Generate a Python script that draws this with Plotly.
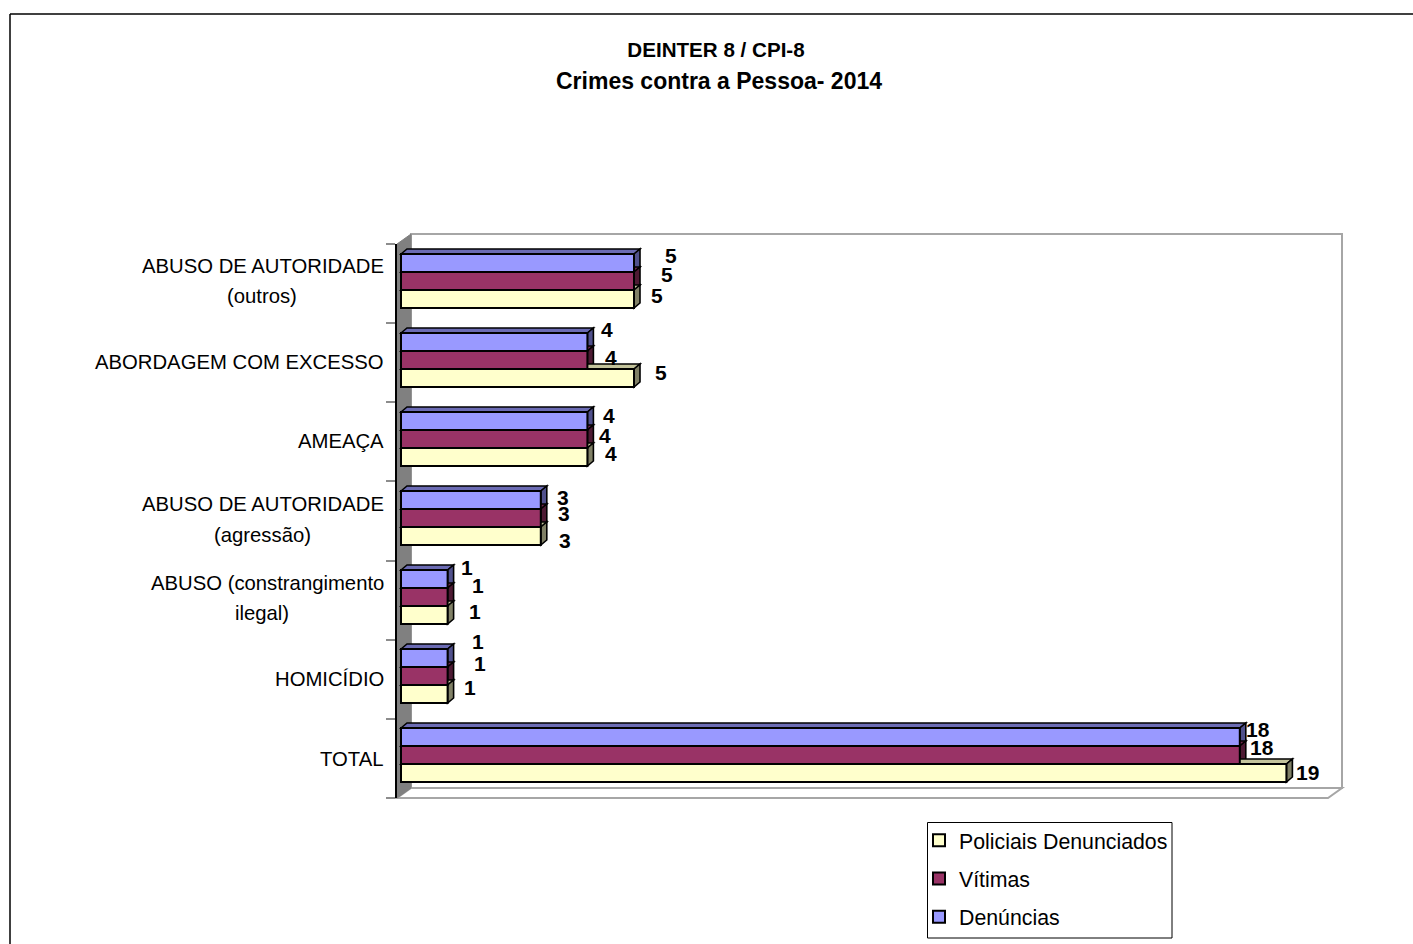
import plotly.graph_objects as go

W, H = 1413, 944

title_line1 = "DEINTER 8 / CPI-8"
title_line2 = "Crimes contra a Pessoa- 2014"
category_lines = [
    ["ABUSO DE AUTORIDADE", "(outros)"],
    ["ABORDAGEM COM EXCESSO"],
    ["AMEAÇA"],
    ["ABUSO DE AUTORIDADE", "(agressão)"],
    ["ABUSO (constrangimento", "ilegal)"],
    ["HOMICÍDIO"],
    ["TOTAL"],
]
denuncias = [5, 4, 4, 3, 1, 1, 18]
vitimas = [5, 4, 4, 3, 1, 1, 18]
policiais = [5, 5, 4, 3, 1, 1, 19]

# series order: top bar to bottom bar inside each category
series = [
    ("Denúncias", denuncias, "#9999FF", "#6B6BB3", "#50508C"),
    ("Vítimas", vitimas, "#993366", "#73264D", "#4D1A33"),
    ("Policiais Denunciados", policiais, "#FFFFCC", "#C4C49C", "#808066"),
]

# manual data label displacement in pixels (dx right, dy down), one row per category
label_dx = [[37, 33, 23], [20, 24, 27], [22, 18, 24], [22, 23, 24], [19, 30, 27], [30, 32, 22], [18, 22, 21]]
label_dy = [[-8, -7, -4], [-13, -3, -6], [-6, -4, -4], [-3, -5, 4], [-12, -12, -4], [-17, -13, -7], [-8, -8, -1]]
# category label displacement
cat_dy = [[-15, 15], [2], [2], [-14, 17], [-14, 16], [3], [4]]

# pixel frame
FONT = "Liberation Sans, Arial, sans-serif"
px_left, px_right, px_top, px_bottom = 397, 1343, 244, 798
px_zero = 401.0
px_per_unit = 46.6
px_row0 = 281.0
px_per_row = 79.0
depth_x, depth_y = 6.0, 5.0

x_range = [(px_left - px_zero) / px_per_unit, (px_right - px_zero) / px_per_unit]
y_range = [(px_bottom - px_row0) / px_per_row, (px_top - px_row0) / px_per_row]
bargap = 1 - 54 / 79
bar_h = (1 - bargap) / 3
dx_u = depth_x / px_per_unit
dy_u = depth_y / px_per_row


def fx(p):
    return p / W


def fy(p):
    return 1 - p / H


def poly(points, fill, line=None, width=2, xref="paper", yref="paper", layer="below"):
    path = "M" + " L".join(f"{a},{b}" for a, b in points) + " Z"
    return dict(type="path", path=path, xref=xref, yref=yref, fillcolor=fill,
                line=dict(color=line or fill, width=width), layer=layer)


def paper_poly(points, fill, line=None, width=2):
    return poly([(fx(a), fy(b)) for a, b in points], fill, line, width)


GRAY = "#A6A6A6"
shapes = [
    # outer chart frame
    dict(type="line", xref="paper", yref="paper", x0=fx(10), x1=fx(10), y0=fy(14), y1=0,
         line=dict(color="#000000", width=1.5), layer="below"),
    dict(type="line", xref="paper", yref="paper", x0=fx(10), x1=1, y0=fy(14), y1=fy(14),
         line=dict(color="#000000", width=1.5), layer="below"),
    # back wall, floor, side wall
    paper_poly([(411, 234), (1342, 234), (1342, 788), (411, 788)], "#FFFFFF", GRAY, 2),
    paper_poly([(411, 788), (1342, 788), (1328, 798), (397, 798)], "#FFFFFF", GRAY, 2),
    paper_poly([(397, 244), (411, 234), (411, 788), (397, 798)], "#808080", "#808080", 1),
    # legend frame
    paper_poly([(927.5, 822.5), (1172, 822.5), (1172, 938), (927.5, 938)], "#FFFFFF", "#000000", 1),
]

# 3D faces of the bars, derived from the values
for row in range(len(category_lines)):
    for i, (name, values, front, top_c, side_c) in enumerate(series):
        v = values[row]
        yc = row + (i - 1) * bar_h
        y0, y1 = yc - bar_h / 2, yc + bar_h / 2
        shapes.append(poly([(0, y0), (dx_u, y0 - dy_u), (v + dx_u, y0 - dy_u), (v, y0)],
                           top_c, "#000000", 1.6, "x", "y"))
        shapes.append(poly([(v, y0), (v + dx_u, y0 - dy_u), (v + dx_u, y1 - dy_u), (v, y1)],
                           side_c, "#000000", 1.6, "x", "y"))

fig = go.Figure()
for i, (name, values, front, top_c, side_c) in enumerate(series):
    fig.add_trace(go.Bar(
        y=list(range(len(values))), x=values, orientation="h", name=name,
        legendgroup=name, legendrank=100 * (len(series) - i),
        marker=dict(color=front, line=dict(color="#000000", width=2)),
        hoverinfo="x+name",
    ))

annotations = []
for row in range(len(category_lines)):
    for i, (name, values, *_rest) in enumerate(series):
        annotations.append(dict(
            x=values[row], y=row + (i - 1) * bar_h, xref="x", yref="y",
            text=f"<b>{values[row]}</b>", showarrow=False, xanchor="center", yanchor="middle",
            xshift=label_dx[row][i], yshift=-label_dy[row][i],
            font=dict(family=FONT, size=21, color="#000000"),
        ))
    lines = category_lines[row]
    for j, line in enumerate(lines):
        second = j == 1
        annotations.append(dict(
            x=fx(262 if second else 386), y=row, xref="paper", yref="y",
            text=line, showarrow=False, xanchor="center" if second else "right", yanchor="middle",
            yshift=-cat_dy[row][j],
            font=dict(family=FONT, size=20.3, color="#000000"),
        ))

annotations.append(dict(
    x=fx(719), y=fy(81), xref="paper", yref="paper", text=f"<b>{title_line2}</b>",
    showarrow=False, xanchor="center", yanchor="middle",
    font=dict(family=FONT, size=23, color="#000000"),
))

tick_vals = [(px_top + 79.14 * t - px_row0) / px_per_row for t in range(8)]

fig.update_layout(
    width=W, height=H, autosize=False,
    margin=dict(l=0, r=0, t=0, b=0),
    paper_bgcolor="#FFFFFF", plot_bgcolor="rgba(0,0,0,0)",
    barmode="group", bargap=bargap, bargroupgap=0,
    title=dict(text=f"<b>{title_line1}</b>", x=fx(716), xanchor="center", y=fy(50), yanchor="middle",
               font=dict(family=FONT, size=20.6, color="#000000")),
    xaxis=dict(domain=[fx(px_left), fx(px_right)], range=x_range, visible=False),
    yaxis=dict(domain=[fy(px_bottom), fy(px_top)], range=y_range, showgrid=False, zeroline=False,
               showline=True, linecolor="#000000", linewidth=2,
               tickmode="array", tickvals=tick_vals, ticktext=[""] * 8,
               ticks="outside", ticklen=9, tickwidth=2, tickcolor="#8C8C8C"),
    legend=dict(x=fx(919), y=fy(820), xanchor="left", yanchor="top", traceorder="grouped",
                bgcolor="rgba(0,0,0,0)", borderwidth=0, tracegroupgap=7.5,
                font=dict(family=FONT, size=21.3, color="#000000")),
    shapes=shapes, annotations=annotations, showlegend=True,
)

fig.write_html("out.html", post_script="document.body.style.margin='0';",
               config=dict(displayModeBar=False))
